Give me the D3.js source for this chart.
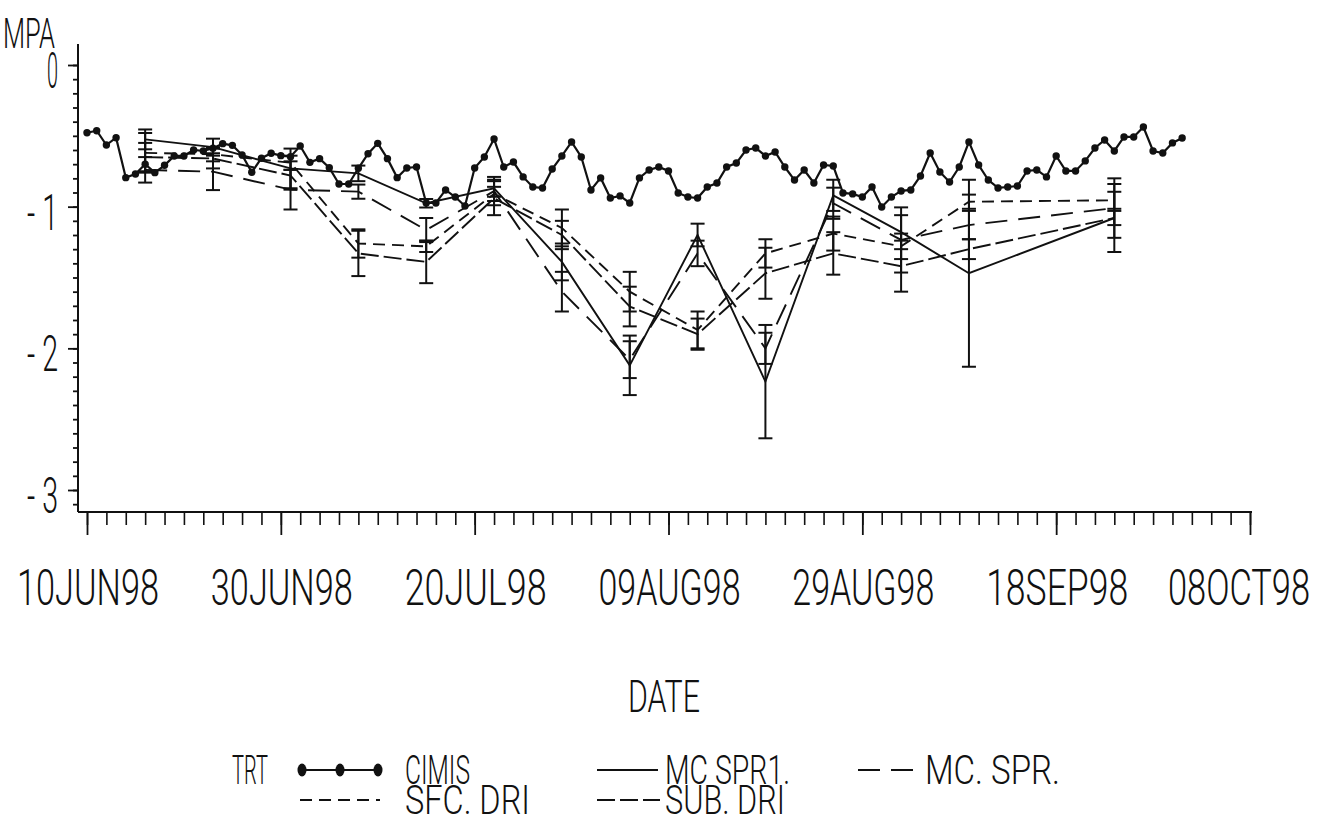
<!DOCTYPE html>
<html>
<head>
<meta charset="utf-8">
<script src="https://cdn.jsdelivr.net/npm/d3@7"></script>
<style>
body { margin: 0; background: #fff; }
text { font-family: "Roboto", "Liberation Sans", sans-serif; font-weight: 300; fill: #111; }
</style>
</head>
<body>
<script>
var w = 1321;
var h = 816;
var day = 864e5;
var start = Date.UTC(1998, 5, 10);

// daily CIMIS values, starting 10JUN98
var cimis = [-0.478, -0.464, -0.565, -0.513, -0.795, -0.769, -0.70, -0.76, -0.708, -0.642,
    -0.642, -0.60, -0.607, -0.588, -0.555, -0.567, -0.635, -0.757, -0.658, -0.623,
    -0.64, -0.647, -0.572, -0.687, -0.661, -0.725, -0.84, -0.84, -0.729, -0.626,
    -0.553, -0.661, -0.795, -0.727, -0.72, -0.974, -0.974, -0.882, -0.932, -0.995,
    -0.727, -0.649, -0.522, -0.72, -0.685, -0.79, -0.861, -0.868, -0.734, -0.642,
    -0.543, -0.649, -0.882, -0.797, -0.939, -0.924, -0.974, -0.797, -0.741, -0.72,
    -0.748, -0.903, -0.932, -0.939, -0.861, -0.833, -0.72, -0.692, -0.60, -0.586,
    -0.642, -0.614, -0.72, -0.812, -0.741, -0.833, -0.706, -0.713, -0.903, -0.91,
    -0.932, -0.861, -1.002, -0.932, -0.889, -0.882, -0.783, -0.621, -0.755, -0.826,
    -0.72, -0.543, -0.706, -0.812, -0.868, -0.861, -0.854, -0.748, -0.741, -0.79,
    -0.642, -0.748, -0.748, -0.677, -0.586, -0.529, -0.607, -0.508, -0.508, -0.438,
    -0.607, -0.621, -0.55, -0.515];

// sampling days (days after 10JUN98) for the treatments
var trtDays = [6, 13, 21, 28, 35, 42, 49, 56, 63, 70, 77, 84, 91, 106];

var mcSpr1    = [-0.525, -0.58, -0.73, -0.765, -0.976, -0.87, -1.39, -2.12, -1.20, -2.235, -0.92, -1.18, -1.47, -1.08];
var mcSpr1Err = [0.07, 0.06, 0.14, 0.055, 0.03, 0.06, 0.13, 0.21, 0.08, 0.40, 0.11, 0.12, 0.66, 0.24];

var mcSpr     = [-0.74, -0.753, -0.88, -0.894, -1.165, -0.89, -1.60, -2.08, -1.33, -2.00, -0.976, -1.235, -1.13, -1.01];
var mcSprErr  = [0.09, 0.13, 0.14, 0.05, 0.085, 0.10, 0.14, 0.13, 0.09, 0.11, 0.11, 0.23, 0.10, 0.21];

var sfcDri    = [-0.62, -0.63, -0.69, -1.26, -1.28, -0.91, -1.15, -1.60, -1.87, -1.33, -1.19, -1.28, -0.965, -0.955];
var sfcDriErr = [0.14, 0.05, 0.05, 0.10, 0.04, 0.05, 0.13, 0.14, 0.13, 0.10, 0.12, 0.09, 0.05, 0.06];

var subDri    = [-0.65, -0.66, -0.78, -1.33, -1.39, -0.94, -1.20, -1.705, -1.90, -1.47, -1.33, -1.42, -1.30, -1.08];
var subDriErr = [0.10, 0.07, 0.10, 0.16, 0.15, 0.12, 0.10, 0.14, 0.11, 0.18, 0.15, 0.18, 0.07, 0.05];

var xTickDays = [0, 20, 40, 60, 80, 100, 120];
var xTickLabels = ["10JUN98", "30JUN98", "20JUL98", "09AUG98", "29AUG98", "18SEP98", "08OCT98"];
var yTicks = [0, -1, -2, -3];
var yTickLabels = ["0", "- 1", "- 2", "- 3"];

var toDate = function(d) { return new Date(start + d * day); };

var svg = d3.select("body")
    .append("svg")
        .attr("width", w)
        .attr("height", h);

var x = d3.scaleUtc()
    .domain([toDate(0), toDate(120)])
    .range([87, 1250]);

var y = d3.scaleLinear()
    .domain([0, -3])
    .range([65, 490]);

var x0 = 78, yBottom = 512, yTop = 44, xRight = 1252;

// narrow, tall lettering: squeeze the text horizontally to a given width
var fitText = function(str, tx, ty, size, width, anchor) {
    var t = svg.append("text").attr("font-size", size).text(str);
    var sx = width / t.node().getComputedTextLength();
    var left = anchor == "middle" ? tx - width / 2 : (anchor == "end" ? tx - width : tx);
    t.attr("transform", "translate(" + left + "," + ty + ") scale(" + sx + ",1)");
    return t;
};

// axis lines
svg.append("line")
    .attr("x1", x0).attr("x2", x0).attr("y1", yTop).attr("y2", yBottom)
    .attr("stroke", "#111").attr("stroke-width", 2);
svg.append("line")
    .attr("x1", x0).attr("x2", xRight).attr("y1", yBottom).attr("y2", yBottom)
    .attr("stroke", "#111").attr("stroke-width", 2);

// y minor + major ticks
var yMinor = d3.range(-31, 1).map(function(i) { return i / 10; });
var gyMinor = svg.append("g")
    .attr("transform", "translate(" + x0 + ",0)")
    .call(d3.axisLeft(y).tickValues(yMinor).tickSize(5).tickFormat(""));
var gyMajor = svg.append("g")
    .attr("transform", "translate(" + x0 + ",0)")
    .call(d3.axisLeft(y).tickValues(yTicks).tickSize(10).tickFormat(""));
svg.selectAll(".domain").remove();
gyMinor.selectAll("line").attr("stroke-width", 1.8).attr("stroke", "#111");
gyMajor.selectAll("line").attr("stroke-width", 1.8).attr("stroke", "#111");

yTicks.forEach(function(d, i) {
    fitText(yTickLabels[i], 58, y(d) + 23, 50, i == 0 ? 11 : 31, "end");
});

// x minor + major ticks
var xMinor = d3.range(0, 121, 2).map(toDate);
var gxMinor = svg.append("g")
    .attr("transform", "translate(0," + yBottom + ")")
    .call(d3.axisBottom(x).tickValues(xMinor).tickSize(13).tickFormat(""));
var gxMajor = svg.append("g")
    .attr("transform", "translate(0," + yBottom + ")")
    .call(d3.axisBottom(x).tickValues(xTickDays.map(toDate)).tickSize(23).tickFormat(""));
gxMinor.select(".domain").remove();
gxMajor.select(".domain").remove();
gxMinor.selectAll("line").attr("stroke-width", 1.6).attr("stroke", "#111");
gxMajor.selectAll("line").attr("stroke-width", 1.8).attr("stroke", "#111");

xTickDays.forEach(function(d, i) {
    var cx = x(toDate(d)) + (i == xTickDays.length - 1 ? -11 : 1);
    fitText(xTickLabels[i], cx, 605, 50, 142, "middle");
});

// axis titles
fitText("MPA", 3, 48, 42, 52, "start");
fitText("DATE", 664, 712, 45, 72, "middle");

// treatments
var series = [
    {name: "MC SPR1.", values: mcSpr1, err: mcSpr1Err, dash: null},
    {name: "MC. SPR.", values: mcSpr, err: mcSprErr, dash: "22,11"},
    {name: "SFC. DRI", values: sfcDri, err: sfcDriErr, dash: "12,7"},
    {name: "SUB. DRI", values: subDri, err: subDriErr, dash: "18,5"}
];

var line = d3.line()
    .x(function(d) { return x(toDate(d[0])); })
    .y(function(d) { return y(d[1]); });

var capW = 7;
series.forEach(function(s) {
    var pts = trtDays.map(function(d, i) { return [d, s.values[i], s.err[i]]; });
    svg.append("path")
        .datum(pts)
        .attr("d", line)
        .attr("fill", "none")
        .attr("stroke", "#111")
        .attr("stroke-width", 1.9)
        .attr("stroke-dasharray", s.dash);

    var g = svg.append("g");
    var bars = g.selectAll("g")
        .data(pts)
        .enter()
        .append("g");
    bars.append("line")
        .attr("x1", function(d) { return x(toDate(d[0])); })
        .attr("x2", function(d) { return x(toDate(d[0])); })
        .attr("y1", function(d) { return y(d[1] + d[2]); })
        .attr("y2", function(d) { return y(d[1] - d[2]); });
    bars.append("line")
        .attr("x1", function(d) { return x(toDate(d[0])) - capW; })
        .attr("x2", function(d) { return x(toDate(d[0])) + capW; })
        .attr("y1", function(d) { return y(d[1] + d[2]); })
        .attr("y2", function(d) { return y(d[1] + d[2]); });
    bars.append("line")
        .attr("x1", function(d) { return x(toDate(d[0])) - capW; })
        .attr("x2", function(d) { return x(toDate(d[0])) + capW; })
        .attr("y1", function(d) { return y(d[1] - d[2]); })
        .attr("y2", function(d) { return y(d[1] - d[2]); });
    g.selectAll("line").attr("stroke", "#111").attr("stroke-width", 2);
});

// CIMIS
var cimisPts = cimis.map(function(v, i) { return [i, v]; });
svg.append("path")
    .datum(cimisPts)
    .attr("d", line)
    .attr("fill", "none")
    .attr("stroke", "#111")
    .attr("stroke-width", 2.2);
svg.selectAll(".dot")
    .data(cimisPts)
    .enter()
    .append("circle")
        .attr("class", "dot")
        .attr("cx", function(d) { return x(toDate(d[0])); })
        .attr("cy", function(d) { return y(d[1]); })
        .attr("r", 3.7)
        .attr("fill", "#111");

// legend
var row1 = 770, row2 = 800;
var legText = function(tx, ty, len, str) {
    fitText(str, tx, ty + 14, 40, len, "start");
};
var legLine = function(x1, x2, ly, dash) {
    svg.append("line")
        .attr("x1", x1).attr("x2", x2).attr("y1", ly).attr("y2", ly)
        .attr("stroke", "#111").attr("stroke-width", 1.9)
        .attr("stroke-dasharray", dash);
};

legText(232, row1, 36, "TRT");
legLine(300, 380, row1, null);
[302, 340, 378].forEach(function(cx) {
    svg.append("ellipse")
        .attr("cx", cx).attr("cy", row1)
        .attr("rx", 4.5).attr("ry", 6.5)
        .attr("fill", "#111");
});
legText(405, row1, 65, "CIMIS");

var legPos = [
    {x1: 597, x2: 658, ly: row1, tx: 665, len: 125},
    {x1: 858, x2: 918, ly: row1, tx: 925, len: 135},
    {x1: 300, x2: 380, ly: row2, tx: 405, len: 125},
    {x1: 597, x2: 660, ly: row2, tx: 665, len: 120}
];
series.forEach(function(s, i) {
    var p = legPos[i];
    legLine(p.x1, p.x2, p.ly, s.dash);
    legText(p.tx, p.ly, p.len, s.name);
});
</script>
</body>
</html>
